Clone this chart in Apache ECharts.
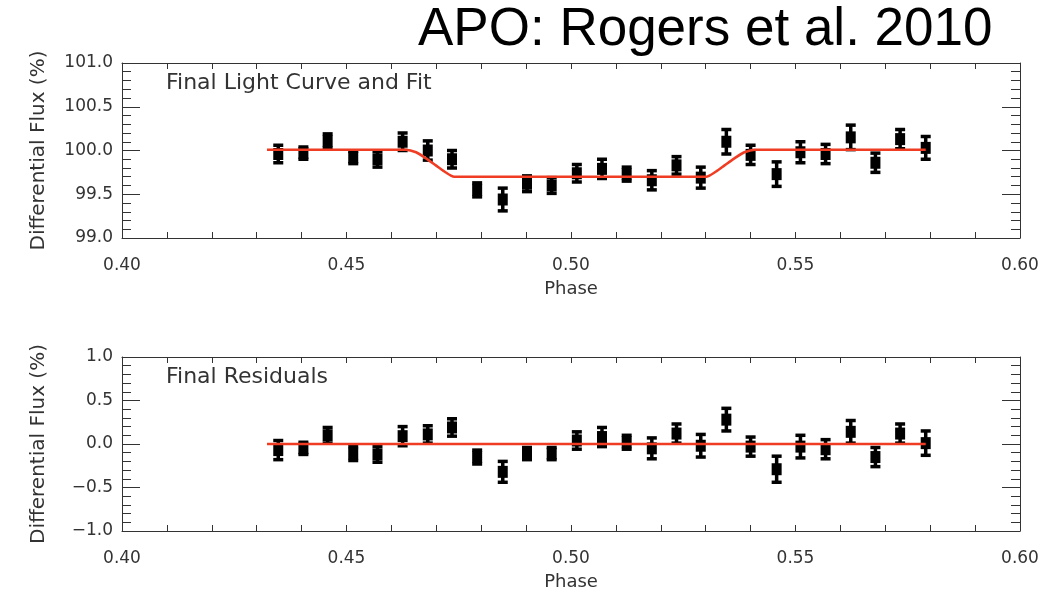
<!DOCTYPE html>
<html>
<head>
<meta charset="utf-8">
<script src="https://cdn.jsdelivr.net/npm/echarts@6/dist/echarts.min.js"></script>
<style>
  html, body { margin: 0; padding: 0; background: #fff; }
  #chart { width: 1060px; height: 593px; }
</style>
</head>
<body>
<div id="chart"></div>
<script>
// phase of each binned point
const phase = [0.4348, 0.4404, 0.4458, 0.4515, 0.4569, 0.4625, 0.4681, 0.4735, 0.4791,
  0.4848, 0.4902, 0.4957, 0.5013, 0.5069, 0.5124, 0.5180, 0.5235, 0.5289,
  0.5346, 0.5400, 0.5458, 0.5511, 0.5567, 0.5623, 0.5678, 0.5733, 0.5790]
// differential flux (%)
const flux = [99.96, 99.97, 100.11, 99.92, 99.90, 100.10, 100.00, 99.90, 99.55,
  99.44, 99.62, 99.60, 99.74, 99.79, 99.73, 99.66, 99.83, 99.69,
  100.10, 99.95, 99.73, 99.98, 99.96, 100.15, 99.86, 100.13, 100.03]
const fluxErr = [0.10, 0.07, 0.08, 0.07, 0.09, 0.10, 0.11, 0.10, 0.08,
  0.13, 0.09, 0.09, 0.10, 0.11, 0.08, 0.11, 0.10, 0.12,
  0.14, 0.11, 0.14, 0.12, 0.11, 0.14, 0.11, 0.11, 0.13]
// residuals (%)
const resid = [-0.07, -0.05, 0.10, -0.11, -0.12, 0.09, 0.11, 0.19, -0.15,
  -0.32, -0.11, -0.11, 0.04, 0.08, 0.02, -0.05, 0.12, -0.02,
  0.28, -0.03, -0.29, -0.03, -0.06, 0.14, -0.15, 0.12, 0.01]
const residErr = [0.11, 0.07, 0.09, 0.08, 0.09, 0.11, 0.10, 0.10, 0.08,
  0.12, 0.07, 0.07, 0.10, 0.11, 0.08, 0.12, 0.11, 0.13,
  0.13, 0.11, 0.15, 0.13, 0.11, 0.13, 0.11, 0.11, 0.14]
// transit fit
const fitPhase = [0.4323, 0.4632, 0.4655, 0.4677, 0.4699, 0.4718, 0.4740,
  0.5301, 0.5323, 0.5342, 0.5364, 0.5386, 0.5410, 0.5790]
const fitFlux = [100.01, 100.01, 99.98, 99.91, 99.83, 99.76, 99.70,
  99.70, 99.76, 99.83, 99.91, 99.98, 100.01, 100.01]
const residFitPhase = [0.4323, 0.5790]
const residFit = [0, 0]

const xRange = [0.40, 0.60]
const fluxRange = [99.0, 101.0]
const residRange = [-1.0, 1.0]

const ink = '#333'
const font = 'DejaVu Sans'
const red = '#f03c22'

function fmtY(v) {
  return v < 0 ? '\u2212' + Math.abs(v).toFixed(1) : v.toFixed(1)
}

function xAxes(grid) {
  const base = {
    type: 'value', gridIndex: grid, min: xRange[0], max: xRange[1], interval: 0.05,
    axisLine: { show: true, onZero: false, lineStyle: { color: ink, width: 1 } },
    axisTick: { show: true, inside: true, length: 6, lineStyle: { color: ink } },
    minorTick: { show: true, splitNumber: 5, length: 6, lineStyle: { color: ink } },
    splitLine: { show: false }
  }
  return [
    Object.assign({}, base, {
      position: 'bottom',
      name: 'Phase', nameLocation: 'middle', nameGap: 42,
      nameTextStyle: { fontFamily: font, fontSize: 18, color: ink },
      axisLabel: { margin: 19, fontFamily: font, fontSize: 17, color: ink, formatter: v => v.toFixed(2) }
    }),
    Object.assign({}, base, { position: 'top', axisLabel: { show: false } })
  ]
}

function yAxes(grid, range) {
  const base = {
    type: 'value', gridIndex: grid, min: range[0], max: range[1], interval: 0.5,
    axisLine: { show: true, onZero: false, lineStyle: { color: ink, width: 1 } },
    axisTick: { show: true, inside: true, length: 18, lineStyle: { color: ink } },
    minorTick: { show: true, splitNumber: 5, length: 9, lineStyle: { color: ink } },
    splitLine: { show: false }
  }
  return [
    Object.assign({}, base, {
      position: 'left',
      name: 'Differential Flux (%)', nameLocation: 'middle', nameGap: 73,
      nameTextStyle: { fontFamily: font, fontSize: 20, color: ink },
      axisLabel: { margin: 9, fontFamily: font, fontSize: 17, color: ink, formatter: fmtY }
    }),
    Object.assign({}, base, { position: 'right', axisLabel: { show: false } })
  ]
}

function errBar(params, api) {
  const x = api.value(0)
  const lo = api.coord([x, api.value(1)])
  const hi = api.coord([x, api.value(2)])
  const w = 5
  const st = { stroke: '#000', lineWidth: 3.5, opacity: 1 }
  return {
    type: 'group',
    children: [
      { type: 'line', shape: { x1: lo[0], y1: lo[1], x2: hi[0], y2: hi[1] }, style: st },
      { type: 'line', shape: { x1: lo[0] - w, y1: lo[1], x2: lo[0] + w, y2: lo[1] }, style: st },
      { type: 'line', shape: { x1: hi[0] - w, y1: hi[1], x2: hi[0] + w, y2: hi[1] }, style: st }
    ]
  }
}

function panel(grid, vals, errs, fx, fy) {
  return [
    {
      type: 'custom', xAxisIndex: grid * 2, yAxisIndex: grid * 2,
      renderItem: errBar, encode: { x: 0, y: [1, 2] },
      data: phase.map((p, i) => [p, vals[i] - errs[i], vals[i] + errs[i]]), z: 2
    },
    {
      type: 'scatter', xAxisIndex: grid * 2, yAxisIndex: grid * 2,
      symbol: 'rect', symbolSize: [10, 12],
      itemStyle: { color: '#000', opacity: 1 },
      data: phase.map((p, i) => [p, vals[i]]), z: 3
    },
    {
      type: 'line', xAxisIndex: grid * 2, yAxisIndex: grid * 2,
      showSymbol: false, smooth: 0.25,
      lineStyle: { color: red, width: 2.5 },
      data: fx.map((p, i) => [p, fy[i]]), z: 4
    }
  ]
}

const chart = echarts.init(document.getElementById('chart'))
chart.setOption({
  animation: false,
  backgroundColor: '#fff',
  title: [
    { text: 'APO: Rogers et al. 2010', left: 418, top: 4, padding: 0,
      textStyle: { fontFamily: 'Liberation Sans', fontSize: 53, fontWeight: 'normal', color: '#000' } },
    { text: 'Final Light Curve and Fit', left: 166, top: 72, padding: 0,
      textStyle: { fontFamily: font, fontSize: 22, fontWeight: 'normal', color: ink } },
    { text: 'Final Residuals', left: 166, top: 366, padding: 0,
      textStyle: { fontFamily: font, fontSize: 22, fontWeight: 'normal', color: ink } }
  ],
  grid: [
    { left: 122, right: 40, top: 63, height: 175 },
    { left: 122, right: 40, top: 357, height: 174 }
  ],
  xAxis: xAxes(0).concat(xAxes(1)),
  yAxis: yAxes(0, fluxRange).concat(yAxes(1, residRange)),
  series: panel(0, flux, fluxErr, fitPhase, fitFlux)
    .concat(panel(1, resid, residErr, residFitPhase, residFit))
})
</script>
</body>
</html>
